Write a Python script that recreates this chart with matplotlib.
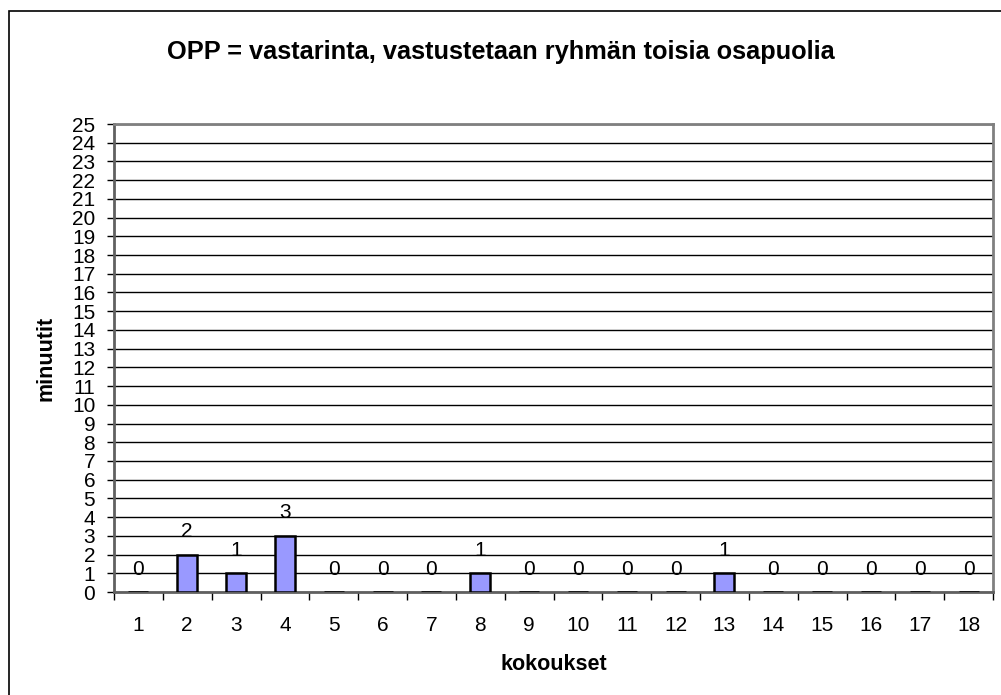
import matplotlib
matplotlib.use("Agg")
import matplotlib.pyplot as plt
from matplotlib.patches import Rectangle
import numpy as np

plt.rcParams['font.family'] = ['Liberation Sans', 'DejaVu Sans']

categories = [str(i) for i in range(1, 19)]
values = [0, 2, 1, 3, 0, 0, 0, 1, 0, 0, 0, 0, 1, 0, 0, 0, 0, 0]
title = "OPP = vastarinta, vastustetaan ryhmän toisia osapuolia"
xlabel = "kokoukset"
ylabel = "minuutit"

W, H = 1001, 695
fig = plt.figure(figsize=(W / 100, H / 100), dpi=100)
fig.patch.set_facecolor('white')

# outer chart border (extends past right/bottom edges)
fig.add_artist(Rectangle((9 / W, 1 - 11 / H - 2), 2, 2, transform=fig.transFigure,
                         fill=False, edgecolor='#000000', linewidth=1.2))

ax = fig.add_axes([114 / W, 1 - 592 / H, (993 - 114) / W, (592 - 124) / H])
x = np.arange(1, len(values) + 1)
ax.bar(x, values, width=0.41, color='#9999FF', edgecolor='black', linewidth=1.8, zorder=3)

ax.set_xlim(0.5, len(values) + 0.5)
ax.set_ylim(0, 25)
ax.set_yticks(range(0, 26))
ax.tick_params(axis='y', labelsize=15, length=5, width=1, direction='out', pad=8.5)
ax.set_xticks(x)
ax.set_xticklabels(categories)
ax.tick_params(axis='x', length=0, labelsize=15, pad=17)
ax.set_xticks(np.arange(0.5, len(values) + 1.5, 1), minor=True)
ax.tick_params(axis='x', which='minor', length=6, width=1, direction='out')

ax.yaxis.grid(True, color='black', linewidth=1, zorder=0)
ax.set_axisbelow(True)

for s in ['top', 'right']:
    ax.spines[s].set_color('#808080')
    ax.spines[s].set_linewidth(2)
for s in ['left', 'bottom']:
    ax.spines[s].set_color('#606060')
    ax.spines[s].set_linewidth(2)

for xi, v in zip(x, values):
    ax.annotate(str(v), (xi, v), xytext=(0, 16.5), textcoords='offset points',
                ha='center', va='center', fontsize=15)

ax.set_xlabel(xlabel, fontsize=15.5, fontweight='bold', labelpad=14)
ax.set_ylabel(ylabel, fontsize=15.5, fontweight='bold', labelpad=11)
fig.text(0.5, 1 - 52 / H, title, ha='center', va='center', fontsize=18.3, fontweight='bold')

fig.savefig('out.png', dpi=100)
